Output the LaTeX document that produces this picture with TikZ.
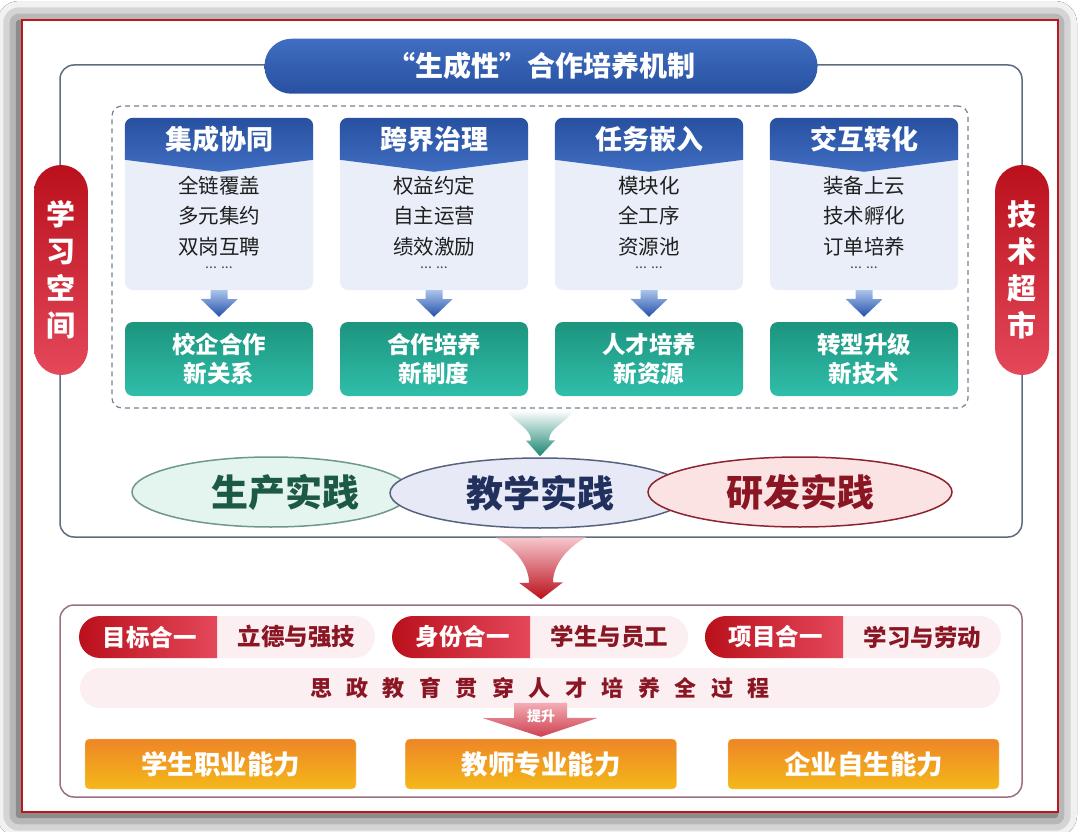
\documentclass[tikz,border=0pt]{standalone}
\usepackage{fontspec}
\setmainfont{Noto Sans CJK SC}
\usepackage{tikz}
\usetikzlibrary{positioning, shapes.geometric, shapes.misc, shadows.blur}
\definecolor{frred}{RGB}{190,22,30}
\definecolor{boxline}{RGB}{94,108,128}
\definecolor{lowline}{RGB}{156,112,128}
\definecolor{hdrtop}{RGB}{40,80,160}
\definecolor{hdrbot}{RGB}{64,110,194}
\definecolor{cardbg}{RGB}{233,238,248}
\definecolor{tealtop}{RGB}{28,148,126}
\definecolor{tealbot}{RGB}{48,190,170}
\definecolor{arrtop}{RGB}{170,195,235}
\definecolor{arrbot}{RGB}{36,80,170}
\definecolor{pillred}{RGB}{186,16,28}
\definecolor{pillpink}{RGB}{228,72,90}
\definecolor{darkred}{RGB}{138,22,36}
\definecolor{mint}{RGB}{228,244,238}
\definecolor{mintline}{RGB}{110,152,140}
\definecolor{mintdark}{RGB}{29,90,69}
\definecolor{lav}{RGB}{231,234,246}
\definecolor{lavline}{RGB}{86,100,127}
\definecolor{navy}{RGB}{34,48,94}
\definecolor{rose}{RGB}{251,226,227}
\definecolor{roseline}{RGB}{141,37,48}
\definecolor{paleros}{RGB}{252,239,242}
\definecolor{orgtop}{RGB}{238,134,38}
\definecolor{orgbot}{RGB}{244,184,26}
\newcommand\zgap{\hspace{14.5pt}}

\begin{document}
\begin{tikzpicture}[x=1pt, y=-1pt, % 1px = 1pt, y nach unten
  card/.style={fill=cardbg, rounded corners=8, minimum width=188, minimum height=172, inner sep=0},
  hdr/.style={top color=hdrtop, bottom color=hdrbot},
  hdrtext/.style={text=white, font=\fontsize{27}{30}\selectfont\bfseries},
  items/.style={align=center, text=black!88, font=\fontsize{20.5}{30.5}\selectfont},
  dots/.style={text=black!70, font=\fontsize{14}{14}\selectfont},
  result/.style={top color=tealtop, bottom color=tealbot, rounded corners=8, minimum width=188, minimum height=74, inner sep=0, align=center, text=white, font=\fontsize{23.5}{29}\selectfont\bfseries},
  bluearr/.style={top color=arrtop, bottom color=arrbot},
  sidepill/.style={top color=pillred, bottom color=pillpink, rounded corners=27, minimum width=54, minimum height=210, inner sep=0, align=center, text=white, font=\fontsize{29}{37}\selectfont\bfseries},
  practice/.style={ellipse, line width=1.5, minimum height=70, inner sep=0, font=\fontsize{37}{40}\selectfont\bfseries},
  tagbg/.style={fill=paleros, rounded corners=21, minimum width=296, minimum height=42, inner sep=0},
  redtag/.style={rounded rectangle, rounded rectangle right arc=none, left color=pillred, right color=pillpink, minimum width=138, minimum height=42, inner sep=0, text=white, font=\fontsize{23.5}{26}\selectfont\bfseries},
  tagval/.style={minimum width=158, minimum height=42, inner sep=0, text=darkred, font=\fontsize{23.5}{26}\selectfont\bfseries},
  ability/.style={top color=orgtop, bottom color=orgbot, draw=orgbot!45!white, rounded corners=4, minimum width=271, minimum height=50, inner sep=0, text=white, font=\fontsize{26.5}{30}\selectfont\bfseries}]

\path[use as bounding box, fill=white] (0,0) rectangle (1080,832);
\node[fill=white, draw=frred, line width=2.5, minimum width=1036, minimum height=792, inner sep=0,
  blur shadow={shadow blur radius=22pt, shadow xshift=-3pt, shadow yshift=-3pt, shadow opacity=90}] (frame) at (540,416) {};

% oberer Block
\node[draw=boxline, line width=1.5, rounded corners=14, minimum width=962, minimum height=472, inner sep=0] (upbox) at (541,301) {};
\node[top color=hdrbot, bottom color=hdrtop, rounded corners=27, minimum width=553, minimum height=55, inner sep=0, text=white, font=\fontsize{28}{32}\selectfont\bfseries] (title) at ([yshift=-2]upbox.north) {“生成性”合作培养机制};
\node[sidepill] (sp1) at (61,270) {学\\习\\空\\间};
\node[sidepill] (sp2) at (1022,270) {技\\术\\超\\市};
\node[draw=boxline!85, line width=1.2, dash pattern=on 5pt off 4pt, rounded corners=10, minimum width=856, minimum height=302, inner sep=0] (dash) at (540,257) {};

\node[card] (c1) at (219,204) {};
\shade[hdr] ([yshift=-54]c1.north) -- ([yshift=-42]c1.north west) [rounded corners=8] -- (c1.north west) -- (c1.north east) [sharp corners] -- ([yshift=-42]c1.north east) -- cycle;
\node[hdrtext] (h1) at (219,139) {集成协同};
\node[items] (i1) at (219,216) {全链覆盖\\多元集约\\双岗互聘};
\node[dots] (d1) at (219,268) {... ...};
\node[result] (r1) at (219,359) {校企合作\\新关系};
\shade[bluearr] ([xshift=-8.5]c1.south) -- ++(17,0) -- ++(0,9) -- ++(10,0) -- ([yshift=5]r1.north) -- ++(-18.5,-18) -- ++(10,0) -- cycle;

\node[card] (c2) at (434,204) {};
\shade[hdr] ([yshift=-54]c2.north) -- ([yshift=-42]c2.north west) [rounded corners=8] -- (c2.north west) -- (c2.north east) [sharp corners] -- ([yshift=-42]c2.north east) -- cycle;
\node[hdrtext] (h2) at (434,139) {跨界治理};
\node[items] (i2) at (434,216) {权益约定\\自主运营\\绩效激励};
\node[dots] (d2) at (434,268) {... ...};
\node[result] (r2) at (434,359) {合作培养\\新制度};
\shade[bluearr] ([xshift=-8.5]c2.south) -- ++(17,0) -- ++(0,9) -- ++(10,0) -- ([yshift=5]r2.north) -- ++(-18.5,-18) -- ++(10,0) -- cycle;

\node[card] (c3) at (649,204) {};
\shade[hdr] ([yshift=-54]c3.north) -- ([yshift=-42]c3.north west) [rounded corners=8] -- (c3.north west) -- (c3.north east) [sharp corners] -- ([yshift=-42]c3.north east) -- cycle;
\node[hdrtext] (h3) at (649,139) {任务嵌入};
\node[items] (i3) at (649,216) {模块化\\全工序\\资源池};
\node[dots] (d3) at (649,268) {... ...};
\node[result] (r3) at (649,359) {人才培养\\新资源};
\shade[bluearr] ([xshift=-8.5]c3.south) -- ++(17,0) -- ++(0,9) -- ++(10,0) -- ([yshift=5]r3.north) -- ++(-18.5,-18) -- ++(10,0) -- cycle;

\node[card] (c4) at (864,204) {};
\shade[hdr] ([yshift=-54]c4.north) -- ([yshift=-42]c4.north west) [rounded corners=8] -- (c4.north west) -- (c4.north east) [sharp corners] -- ([yshift=-42]c4.north east) -- cycle;
\node[hdrtext] (h4) at (864,139) {交互转化};
\node[items] (i4) at (864,216) {装备上云\\技术孵化\\订单培养};
\node[dots] (d4) at (864,268) {... ...};
\node[result] (r4) at (864,359) {转型升级\\新技术};
\shade[bluearr] ([xshift=-8.5]c4.south) -- ++(17,0) -- ++(0,9) -- ++(10,0) -- ([yshift=5]r4.north) -- ++(-18.5,-18) -- ++(10,0) -- cycle;

% drei Praxisfelder
\node[practice, fill=mint, draw=mintline, text=mintdark, minimum width=278] (e1) at (271,492) {\hspace{28pt}生产实践};
\node[practice, fill=lav, draw=lavline, text=navy, minimum width=300] (e2) at (540,493) {教学实践};
\node[practice, fill=rose, draw=roseline, text=darkred, minimum width=304] (e3) at (800,492) {研发实践};
\shade[top color=white, bottom color=tealtop!90!black] ([xshift=-33,yshift=-2]dash.south) .. controls +(10,14) and +(0,-12) .. ++(24,30) -- ++(-5,0) -- ([yshift=1]e2.north) -- ++(15,-16) -- ++(-6,0) .. controls +(0,-12) and +(-10,14) .. ++(25,-30) -- cycle;

% unterer Block
\node[draw=lowline, line width=1.5, rounded corners=14, minimum width=962, minimum height=192, inner sep=0] (lowbox) at (541,701) {};
\shade[top color=pillpink!30, bottom color=pillred] ([xshift=-45]upbox.south) .. controls +(18,10) and +(0,-18) .. ++(33,45) -- ++(-10,0) -- ([yshift=5]lowbox.north) -- ++(22,-17) -- ++(-10,0) .. controls +(0,-18) and +(-18,10) .. ++(33,-45) -- cycle;
\node[tagbg] (g1) at (227,637) {};
\node[redtag, anchor=west] (p1) at (g1.west) {目标合一};
\node[tagval, right=0pt of p1] (v1) {立德与强技};
\node[tagbg] (g2) at (540,637) {};
\node[redtag, anchor=west] (p2) at (g2.west) {身份合一};
\node[tagval, right=0pt of p2] (v2) {学生与员工};
\node[tagbg] (g3) at (853,637) {};
\node[redtag, anchor=west] (p3) at (g3.west) {项目合一};
\node[tagval, right=0pt of p3] (v3) {学习与劳动};

\node[fill=paleros, rounded corners=20, minimum width=920, minimum height=40, inner sep=0, text=darkred, font=\fontsize{22}{26}\selectfont\bfseries] (band) at (540,688) {思\zgap 政\zgap 教\zgap 育\zgap 贯\zgap 穿\zgap 人\zgap 才\zgap 培\zgap 养\zgap 全\zgap 过\zgap 程};

\node[ability] (o1) at (220.5,764) {学生职业能力};
\node[ability] (o2) at (541,764) {教师专业能力};
\node[ability] (o3) at (863.5,764) {企业自生能力};
\shade[top color=pillpink!45, bottom color=pillpink!90!black] ([xshift=-26,yshift=5]band.south) -- ++(0,15) -- ++(-31,0) -- ([yshift=2]o2.north) -- ++(57,-19) -- ++(-31,0) -- ++(0,-15) -- cycle;
\node[text=white, font=\fontsize{14}{15}\selectfont\bfseries] (lift) at (541,716) {提升};
\end{tikzpicture}
\end{document}
